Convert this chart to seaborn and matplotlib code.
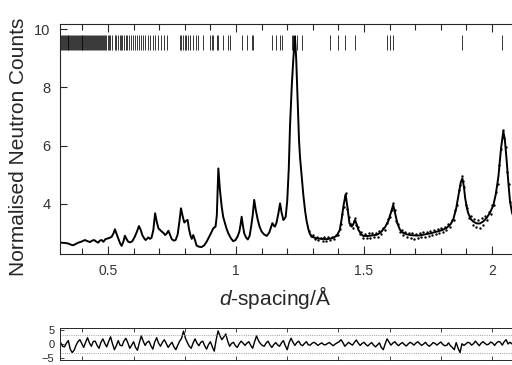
import numpy as np
import seaborn as sns
import matplotlib
matplotlib.use("Agg")
import matplotlib.pyplot as plt

# calculated profile (d-spacing in Angstrom, normalised counts)
d_calc = [0.300, 0.315, 0.330, 0.345, 0.355, 0.364, 0.375, 0.384, 0.395, 0.410, 0.420,
          0.430, 0.438, 0.446, 0.455, 0.462, 0.468, 0.475, 0.482, 0.490, 0.500, 0.508,
          0.515, 0.522, 0.527, 0.533, 0.540, 0.547, 0.553, 0.560, 0.566, 0.572, 0.579,
          0.587, 0.595, 0.605, 0.613, 0.621, 0.628, 0.634, 0.641, 0.647, 0.652, 0.657,
          0.664, 0.670, 0.677, 0.684, 0.690, 0.697, 0.704, 0.710, 0.717, 0.723, 0.729,
          0.736, 0.742, 0.749, 0.757, 0.764, 0.772, 0.779, 0.785, 0.791, 0.798, 0.805,
          0.811, 0.816, 0.822, 0.827, 0.833, 0.840, 0.846, 0.855, 0.866, 0.876, 0.885,
          0.894, 0.902, 0.911, 0.920, 0.925, 0.931, 0.937, 0.944, 0.950, 0.957, 0.963,
          0.970, 0.980, 0.989, 0.998, 1.006, 1.013, 1.018, 1.022, 1.027, 1.032, 1.039,
          1.046, 1.053, 1.059, 1.065, 1.071, 1.077, 1.085, 1.092, 1.100, 1.110, 1.120,
          1.130, 1.137, 1.142, 1.148, 1.152, 1.158, 1.165, 1.172, 1.178, 1.185, 1.190,
          1.194, 1.200, 1.206, 1.211, 1.218, 1.224, 1.230, 1.235, 1.241, 1.246, 1.250,
          1.256, 1.263, 1.270, 1.276, 1.283, 1.289, 1.300, 1.315, 1.335, 1.354, 1.375,
          1.393, 1.405, 1.412, 1.420, 1.428, 1.435, 1.443, 1.452, 1.458, 1.465, 1.472,
          1.478, 1.488, 1.497, 1.517, 1.535, 1.550, 1.565, 1.582, 1.595, 1.605, 1.614,
          1.622, 1.630, 1.640, 1.650, 1.665, 1.680, 1.710, 1.730, 1.760, 1.784, 1.805,
          1.823, 1.838, 1.849, 1.860, 1.869, 1.878, 1.884, 1.890, 1.895, 1.902, 1.907,
          1.917, 1.927, 1.940, 1.953, 1.966, 1.979, 1.992, 2.005, 2.015, 2.025, 2.035,
          2.044, 2.050, 2.057, 2.064, 2.070, 2.078, 2.090, 2.110, 2.130]
counts_calc = [2.66, 2.67, 2.66, 2.64, 2.60, 2.58, 2.63, 2.67, 2.70, 2.76, 2.72,
               2.69, 2.74, 2.76, 2.70, 2.67, 2.74, 2.76, 2.70, 2.79, 2.82, 2.84,
               2.88, 3.00, 3.13, 2.98, 2.82, 2.65, 2.56, 2.70, 2.91, 2.80, 2.70,
               2.68, 2.72, 2.88, 3.05, 3.24, 3.10, 2.93, 2.82, 2.76, 2.80, 2.85,
               2.80, 2.84, 3.10, 3.68, 3.40, 3.16, 3.10, 3.05, 3.00, 2.93, 2.98,
               3.08, 2.95, 2.79, 2.74, 2.76, 2.95, 3.40, 3.85, 3.60, 3.36, 3.42,
               3.45, 3.15, 2.92, 2.80, 2.93, 2.75, 2.57, 2.53, 2.52, 2.58, 2.70,
               2.85, 2.99, 3.16, 3.22, 3.60, 5.22, 4.50, 3.91, 3.55, 3.34, 3.15,
               2.99, 2.82, 2.72, 2.76, 2.88, 3.05, 3.30, 3.56, 3.25, 2.99, 2.85,
               2.78, 2.90, 3.22, 3.60, 4.14, 3.80, 3.45, 3.22, 3.05, 2.95, 2.90,
               3.02, 3.20, 3.34, 3.25, 3.22, 3.35, 3.65, 4.02, 3.70, 3.45, 3.50,
               3.56, 4.10, 5.20, 6.70, 8.10, 9.00, 9.75, 9.00, 7.46, 6.20, 5.60,
               5.00, 4.30, 3.75, 3.40, 3.12, 2.96, 2.86, 2.82, 2.80, 2.79, 2.82,
               2.90, 3.10, 3.45, 3.95, 4.33, 3.90, 3.34, 3.22, 3.30, 3.45, 3.28,
               3.11, 2.97, 2.90, 2.90, 2.92, 2.94, 3.02, 3.20, 3.42, 3.70, 3.97,
               3.65, 3.34, 3.12, 3.02, 2.96, 2.93, 2.91, 2.94, 2.99, 3.05, 3.10,
               3.18, 3.30, 3.48, 3.85, 4.30, 4.75, 4.88, 4.60, 4.20, 3.85, 3.68,
               3.48, 3.39, 3.33, 3.33, 3.40, 3.52, 3.70, 3.95, 4.35, 4.95, 5.90,
               6.50, 6.20, 5.50, 4.70, 4.10, 3.70, 3.40, 3.20, 3.10]

# observed points where the scatter is visible
d_obs = [1.285, 1.292, 1.300, 1.308, 1.315, 1.322, 1.330, 1.338, 1.345, 1.352,
         1.360, 1.368, 1.375, 1.382, 1.390, 1.398, 1.405, 1.410, 1.415, 1.420,
         1.425, 1.430, 1.435, 1.440, 1.445, 1.450, 1.455, 1.460, 1.465, 1.470,
         1.476, 1.483, 1.490, 1.497, 1.504, 1.511, 1.518, 1.525, 1.532, 1.539,
         1.546, 1.553, 1.560, 1.567, 1.574, 1.581, 1.588, 1.595, 1.602, 1.608,
         1.614, 1.620, 1.626, 1.633, 1.640, 1.647, 1.654, 1.661, 1.668, 1.675,
         1.682, 1.689, 1.696, 1.703, 1.710, 1.717, 1.724, 1.731, 1.738, 1.745,
         1.752, 1.759, 1.766, 1.773, 1.780, 1.787, 1.794, 1.801, 1.808, 1.815,
         1.822, 1.829, 1.836, 1.843, 1.850, 1.857, 1.864, 1.870, 1.876, 1.882,
         1.886, 1.892, 1.898, 1.904, 1.910, 1.917, 1.924, 1.931, 1.938, 1.945,
         1.952, 1.959, 1.966, 1.973, 1.980, 1.987, 1.994, 2.001, 2.008, 2.015,
         2.022, 2.029, 2.036, 2.042, 2.048, 2.054, 2.060, 2.066, 2.072]
counts_obs = [3.08, 2.90, 2.93, 2.78, 2.87, 2.76, 2.84, 2.74, 2.85, 2.73,
              2.86, 2.75, 2.88, 2.79, 2.93, 2.92, 3.15, 3.30, 3.64, 3.90,
              4.28, 4.38, 3.84, 3.56, 3.26, 3.30, 3.18, 3.42, 3.52, 3.27,
              3.22, 2.96, 3.02, 2.84, 2.97, 2.83, 2.99, 2.82, 3.00, 2.85,
              3.01, 2.87, 3.06, 2.96, 3.18, 3.12, 3.36, 3.48, 3.55, 3.80,
              4.04, 3.78, 3.42, 3.32, 3.05, 3.12, 2.93, 3.05, 2.86, 3.01,
              2.84, 2.99, 2.80, 2.97, 2.83, 3.00, 2.86, 3.02, 2.88, 3.05,
              2.90, 3.07, 2.92, 3.10, 2.97, 3.14, 3.00, 3.17, 3.05, 3.22,
              3.10, 3.30, 3.20, 3.45, 3.44, 3.80, 3.98, 4.48, 4.64, 4.95,
              4.78, 4.58, 3.96, 3.86, 3.52, 3.58, 3.28, 3.48, 3.22, 3.45,
              3.18, 3.50, 3.28, 3.58, 3.45, 3.72, 3.66, 3.95, 3.98, 4.42,
              4.68, 5.34, 5.88, 6.55, 6.25, 5.95, 5.10, 4.68, 4.08]

# reflection positions
d_refl = [0.316, 0.320, 0.323, 0.327, 0.331, 0.334, 0.338, 0.342, 0.345, 0.349,
          0.353, 0.356, 0.360, 0.364, 0.367, 0.371, 0.375, 0.378, 0.382, 0.386,
          0.389, 0.393, 0.397, 0.400, 0.404, 0.408, 0.411, 0.415, 0.419, 0.422,
          0.426, 0.430, 0.434, 0.437, 0.441, 0.445, 0.448, 0.452, 0.456, 0.460,
          0.464, 0.468, 0.472, 0.476, 0.480, 0.485, 0.489, 0.494, 0.499, 0.504,
          0.509, 0.514, 0.527, 0.533, 0.538, 0.545, 0.550, 0.556, 0.562, 0.570,
          0.575, 0.582, 0.590, 0.598, 0.604, 0.612, 0.620, 0.627, 0.636, 0.645,
          0.655, 0.664, 0.675, 0.684, 0.695, 0.706, 0.718, 0.730, 0.781, 0.786,
          0.792, 0.801, 0.806, 0.814, 0.822, 0.833, 0.842, 0.852, 0.872, 0.898,
          0.906, 0.911, 0.926, 0.931, 0.950, 0.970, 0.977, 1.022, 1.042, 1.061,
          1.068, 1.139, 1.155, 1.172, 1.178, 1.217, 1.224, 1.230, 1.237, 1.256,
          1.367, 1.400, 1.426, 1.465, 1.589, 1.600, 1.614, 1.881, 2.038]

# difference curve (obs - calc) / sigma
d_diff = [0.315, 0.3225, 0.330, 0.3375, 0.345, 0.3525, 0.360, 0.3675, 0.375, 0.3825,
          0.390, 0.3975, 0.405, 0.4125, 0.420, 0.4275, 0.435, 0.4425, 0.450, 0.4575,
          0.465, 0.4725, 0.480, 0.4875, 0.495, 0.5025, 0.510, 0.5175, 0.525, 0.5325,
          0.540, 0.5475, 0.555, 0.5625, 0.570, 0.5775, 0.585, 0.5925, 0.600, 0.6075,
          0.615, 0.6225, 0.630, 0.6375, 0.645, 0.6525, 0.660, 0.6675, 0.675, 0.6825,
          0.690, 0.6975, 0.705, 0.7125, 0.720, 0.7275, 0.735, 0.7425, 0.750, 0.7575,
          0.765, 0.7725, 0.780, 0.7875, 0.795, 0.8025, 0.810, 0.8175, 0.825, 0.8325,
          0.840, 0.8475, 0.855, 0.8625, 0.870, 0.8775, 0.885, 0.8925, 0.900, 0.9075,
          0.915, 0.9225, 0.930, 0.9375, 0.945, 0.9525, 0.960, 0.9675, 0.975, 0.9825,
          0.990, 0.9975, 1.005, 1.0125, 1.020, 1.0275, 1.035, 1.0425, 1.050, 1.0575,
          1.065, 1.0725, 1.080, 1.0875, 1.095, 1.1025, 1.110, 1.1175, 1.125, 1.1325,
          1.140, 1.1475, 1.155, 1.1625, 1.170, 1.1775, 1.185, 1.1925, 1.200, 1.2075,
          1.215, 1.2225, 1.230, 1.2375, 1.245, 1.2525, 1.260, 1.2675, 1.275, 1.2825,
          1.290, 1.2975, 1.305, 1.3125, 1.320, 1.3275, 1.335, 1.3425, 1.350, 1.3575,
          1.365, 1.3725, 1.380, 1.3875, 1.395, 1.4025, 1.410, 1.4175, 1.425, 1.4325,
          1.440, 1.4475, 1.455, 1.4625, 1.470, 1.4775, 1.485, 1.4925, 1.500, 1.5075,
          1.515, 1.5225, 1.530, 1.5375, 1.545, 1.5525, 1.560, 1.5675, 1.575, 1.5825,
          1.590, 1.5975, 1.605, 1.6125, 1.620, 1.6275, 1.635, 1.6425, 1.650, 1.6575,
          1.665, 1.6725, 1.680, 1.6875, 1.695, 1.7025, 1.710, 1.7175, 1.725, 1.7325,
          1.740, 1.7475, 1.755, 1.7625, 1.770, 1.7775, 1.785, 1.7925, 1.800, 1.8075,
          1.815, 1.8225, 1.830, 1.8375, 1.845, 1.8525, 1.860, 1.8675, 1.875, 1.8825,
          1.890, 1.8975, 1.905, 1.9125, 1.920, 1.9275, 1.935, 1.9425, 1.950, 1.9575,
          1.965, 1.9725, 1.980, 1.9875, 1.995, 2.0025, 2.010, 2.0175, 2.025, 2.0325,
          2.040, 2.0475, 2.055, 2.0625, 2.070, 2.0775, 2.085, 2.0925, 2.100, 2.1075]
diff = [0.5, -0.8, -1.0, 0.3, 1.2, -1.8, -3.0, -2.2, -0.5, 0.8,
        1.5, 0.2, -1.2, 0.6, 2.2, 0.4, -0.8, 0.9, 1.0, -0.5,
        -1.5, 0.6, 1.8, 0.2, -1.0, 0.9, 2.5, 0.1, -2.0, -0.6,
        1.2, -0.5, -0.6, 1.1, 2.0, 0.4, -1.5, -0.4, 0.8, -1.2,
        -2.2, 0.5, 2.8, 1.0, -0.5, 0.6, 1.0, -0.6, -1.8, 0.7,
        2.2, 0.3, -0.8, 0.6, 1.5, 0.2, -1.2, -0.2, 0.6, -1.0,
        -2.0, -0.4, 1.0, 2.0, 4.5, 2.0, 0.5, -0.8, -1.5, 0.4,
        1.8, 0.3, -0.6, 0.6, 1.0, -0.6, -1.8, -0.2, 0.8, -1.0,
        -2.5, 1.5, 4.6, 2.8, 1.5, 2.5, 3.5, 1.0, -0.8, 0.2,
        0.6, -0.6, -1.2, 0.1, 1.0, 0.3, -0.5, 0.3, 0.8, -0.5,
        -1.5, 0.8, 2.8, 1.2, 0.2, -0.5, -0.8, 0.3, 1.0, -0.3,
        -1.2, -0.2, 0.5, -0.3, -0.8, 0.4, 1.2, -0.6, -2.0, 0.5,
        2.0, 0.6, -0.5, 0.5, 1.0, -0.2, -0.6, 0.2, 0.8, -0.3,
        -0.4, 0.3, 0.6, 0.1, -0.5, 0.0, 0.4, -0.2, -0.3, 0.2,
        0.5, -0.1, -0.6, 0.0, 0.4, 0.8, 1.5, 0.5, -0.8, -0.1,
        0.6, 0.0, -0.4, 0.6, 1.4, 0.3, -0.5, 0.2, 0.6, -0.2,
        -0.7, 0.0, 0.5, -0.4, -1.0, -0.3, 0.4, -1.2, -2.0, 0.0,
        1.8, 0.7, -0.4, 0.3, 0.8, 0.0, -0.6, 0.1, 0.5, -0.2,
        -0.7, 0.0, 0.6, 0.2, -0.4, 0.3, 0.8, 0.1, -0.5, 0.0,
        0.6, -0.3, -0.8, -0.2, 0.5, 0.2, -0.4, 0.2, 0.7, -0.1,
        -0.6, -0.5, 0.4, -0.6, -1.2, -2.0, 0.5, -1.5, -3.0, 0.1,
        -0.5, 0.0, 0.6, 0.4, -0.4, 0.1, 1.0, 0.2, -0.6, 0.3,
        0.8, 0.2, -0.3, 0.0, 0.7, 0.3, -0.5, 0.4, 0.9, 0.6,
        -0.4, 0.8, 1.5, 0.0, 0.6, 0.1, -0.5, 0.0, 0.4, 0.2]

sns.set_style("ticks")
plt.rcParams['font.family'] = ['Liberation Sans', 'DejaVu Sans']
plt.rcParams['mathtext.fontset'] = 'custom'
plt.rcParams['mathtext.it'] = 'Liberation Sans:italic'
plt.rcParams['mathtext.rm'] = 'Liberation Sans'

W, H = 512, 365
fig = plt.figure(figsize=(W / 100, H / 100), dpi=100)
xmin, xmax = 0.3125, 2.117

# main pattern
ax = fig.add_axes([60 / W, (H - 254) / H, 462 / W, 230 / H])
sns.lineplot(x=d_calc, y=counts_calc, ax=ax, color="black", lw=1.4,
             sort=False, estimator=None)
sns.scatterplot(x=d_obs, y=counts_obs, ax=ax, color="black", s=3,
                linewidth=0, zorder=3)
ax.vlines(d_refl, 9.3, 9.8, color="black", lw=0.55)

ax.set_xlim(xmin, xmax)
ax.set_ylim(2.28, 10.18)
ax.set_xticks([0.5, 1.0, 1.5, 2.0], ["0.5", "1", "1.5", "2"])
ax.set_xticks([0.4, 0.6, 0.7, 0.8, 0.9, 1.1, 1.2, 1.3, 1.4, 1.6, 1.7, 1.8,
               1.9, 2.1], minor=True)
ax.set_yticks([4, 6, 8, 10])
ax.tick_params(axis="x", which="both", direction="in", top=True, labelsize=10,
               pad=7, labelcolor="#333333")
ax.tick_params(axis="x", which="major", length=6, width=0.8)
ax.tick_params(axis="x", which="minor", length=4, width=0.8)
ax.tick_params(axis="y", direction="in", length=5, width=0.8, labelsize=10.5,
               pad=7, labelcolor="#333333")
for s in ["left", "bottom", "top"]:
    ax.spines[s].set_linewidth(0.8)
ax.spines["right"].set_visible(False)

ax.set_xlabel("$d$-spacing/Å", fontsize=15)
ax.xaxis.set_label_coords(0.465, -0.13)
ax.set_ylabel("Normalised Neutron Counts", fontsize=15)
ax.yaxis.set_label_coords(-0.07, 0.465)

# difference plot
axd = fig.add_axes([60 / W, 5 / H, 462 / W, 32 / H])
sns.lineplot(x=d_diff, y=diff, ax=axd, color="black", lw=1.0,
             sort=False, estimator=None)
axd.axhline(3, color="grey", ls=":", lw=0.6)
axd.axhline(-3, color="grey", ls=":", lw=0.6)
axd.set_xlim(xmin, xmax)
axd.set_ylim(-5.6, 5.6)
axd.set_xticks([0.4, 0.6, 0.8, 1.0, 1.2, 1.4, 1.6, 1.8, 2.0])
axd.set_yticks([-5, 0, 5], ["\u22125", "0", "5"])
axd.tick_params(axis="x", direction="in", top=True, labelbottom=False, length=3, width=0.6)
axd.tick_params(axis="y", direction="in", length=3, width=0.6, labelsize=8, pad=4)
for s in ["left", "bottom", "top"]:
    axd.spines[s].set_linewidth(0.7)
axd.spines["right"].set_visible(False)

fig.savefig("out.png", dpi=100)
